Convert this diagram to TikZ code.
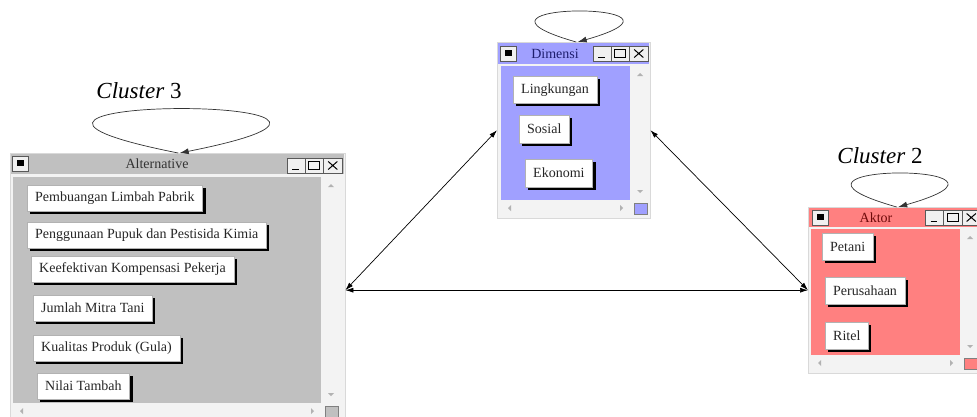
\documentclass[tikz,border=0pt]{standalone}
\usepackage{fontspec}
\setmainfont{Liberation Serif}
\usetikzlibrary{arrows.meta,shadows}

\definecolor{altgray}{RGB}{192,192,192}
\definecolor{dimblue}{RGB}{160,160,255}
\definecolor{aktred}{RGB}{255,128,128}
\definecolor{winbg}{RGB}{243,243,243}
\definecolor{navy}{RGB}{30,30,110}
\definecolor{darkred}{RGB}{110,10,10}

% small window decorations
\newcommand{\winicon}[2]{%
  \draw[ctl] (#1,#2) rectangle ++(16,15);
  \fill[black] (#1+4.5,#2+4) rectangle ++(7,6);}
\newcommand{\winbtns}[3]{%
  \foreach \i in {0,1,2}{\draw[ctl] ({#1+\i*#3},#2) rectangle ++(#3,15);}
  \draw[line width=1.5pt] ({#1+0.3*#3},#2+11.5) -- ({#1+0.65*#3},#2+11.5);
  \draw[line width=1pt] ({#1+1.2*#3},#2+3.5) rectangle ({#1+1.8*#3},#2+11.5);
  \draw[line width=1pt] ({#1+2.25*#3},#2+3.5) -- ({#1+2.75*#3},#2+11.5)
    ({#1+2.25*#3},#2+11.5) -- ({#1+2.75*#3},#2+3.5);}
\newcommand{\scrollbars}[5]{%
  \fill[black!30] (#3+10,#2+7) -- ++(-3,3) -- ++(6,0) -- cycle;
  \fill[black!30] (#3+10,#4-7) -- ++(-3,-3) -- ++(6,0) -- cycle;
  \fill[black!30] (#1+7,#4+8) -- ++(3,-3) -- ++(0,6) -- cycle;
  \fill[black!30] (#3-7,#4+8) -- ++(-3,-3) -- ++(0,6) -- cycle;
  \filldraw[fill=#5, draw=black!50] (#3+4,#4+3) rectangle ++(13,11);}

\begin{document}
\begin{tikzpicture}[x=1pt, y=-1pt,
    win/.style={draw=black!15, fill=winbg, inner sep=0pt, anchor=north west},
    btn/.style={draw=black!30, fill=white, text=black!85, anchor=north west,
      inner xsep=8pt, minimum height=26pt, font=\fontsize{14}{16}\selectfont,
      drop shadow={shadow xshift=3pt, shadow yshift=-3pt, fill=black, opacity=1}},
    ttl/.style={font=\fontsize{14}{16}\selectfont},
    clu/.style={font=\fontsize{23}{26}\selectfont},
    ctl/.style={draw=black!65, fill=black!6},
    selfarc/.style={draw=black!80, line width=0.7pt, -{Latex[length=9pt,width=6pt]}},
    link/.style={draw, line width=0.7pt, {Latex[length=8pt,width=5pt]}-{Latex[length=8pt,width=5pt]}}]
  \useasboundingbox (0,0) rectangle (977,416);

  % Cluster 3
  \node[win, minimum width=335pt, minimum height=274pt] (alt) at (10,153) {};
  \fill[altgray] (11,154) rectangle (344,174);
  \fill[altgray] (13,177) rectangle (321,403);
  \node[ttl, text=black!80] (altT) at (157,164) {Alternative};
  \winicon{12}{156}
  \winbtns{287}{158}{18.3}
  \scrollbars{13}{177}{321}{403}{altgray}
  \node[btn] (limbah) at (27,185) {Pembuangan Limbah Pabrik};
  \node[btn] (pupuk) at (27,222) {Penggunaan Pupuk dan Pestisida Kimia};
  \node[btn] (kompen) at (31,256) {Keefektivan Kompensasi Pekerja};
  \node[btn] (mitra) at (33,295) {Jumlah Mitra Tani};
  \node[btn] (kualitas) at (33,335) {Kualitas Produk (Gula)};
  \node[btn] (nilai) at (37,373) {Nilai Tambah};
  \node[clu] (c3) at (139,91) {\textit{Cluster} 3};

  % Dimensi
  \node[win, minimum width=153pt, minimum height=176pt] (dim) at (497,42) {};
  \fill[dimblue] (498,43) rectangle (649,64);
  \fill[dimblue] (501,66) rectangle (630,200);
  \node[ttl, text=navy] (dimT) at (555,54) {Dimensi};
  \winicon{500}{46}
  \winbtns{593}{46}{18.3}
  \scrollbars{501}{66}{630}{200}{dimblue}
  \node[btn, minimum height=27pt] (lingk) at (513,76) {Lingkungan};
  \node[btn, minimum height=28pt] (sosial) at (519,115) {Sosial};
  \node[btn, minimum height=28pt] (ekonomi) at (525,159) {Ekonomi};

  % Cluster 2
  \node[win, minimum width=180pt, minimum height=166pt] (akt) at (808,207) {};
  \fill[aktred] (809,208) rectangle (987,227);
  \fill[aktred] (811,229) rectangle (960,355);
  \node[ttl, text=darkred] (aktT) at (876,218) {Aktor};
  \winicon{812}{210}
  \winbtns{925}{210}{18.5}
  \scrollbars{811}{229}{960}{355}{aktred}
  \node[btn, minimum height=27pt] (petani) at (822,233) {Petani};
  \node[btn, minimum height=27pt] (usaha) at (825,277) {Perusahaan};
  \node[btn, minimum height=27pt] (ritel) at (825,322) {Ritel};
  \node[clu] (c2) at (880,156) {\textit{Cluster} 2};

  % inner dependence loops
  \coordinate (altL) at ([xshift=2pt]alt.north);
  \coordinate (dimL) at ([xshift=4pt]dim.north);
  \coordinate (aktL) at (akt.north);
  \draw[selfarc] ([xshift=-1.5pt]altL) .. controls +(-298,-59) and +(298,-59) .. (altL);
  \draw[selfarc] ([xshift=-1.5pt]dimL) .. controls +(-144,-41) and +(144,-41) .. (dimL);
  \draw[selfarc] ([xshift=-1.5pt]aktL) .. controls +(-159,-45) and +(159,-45) .. (aktL);

  % outer dependence
  \draw[link] (alt.east) -- (akt.west);
  \draw[link] (alt.east) -- (dim.west);
  \draw[link] (dim.east) -- (akt.west);
\end{tikzpicture}
\end{document}
